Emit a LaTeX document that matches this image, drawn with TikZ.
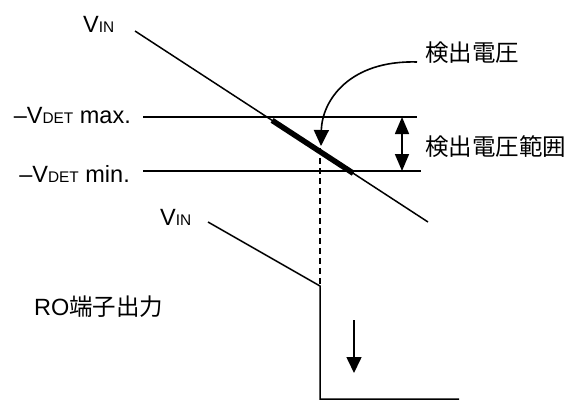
\documentclass[tikz,border=0pt]{standalone}
\usepackage{fontspec}
\setmainfont{Liberation Sans}
\newfontfamily\jpfont{Noto Sans CJK JP}
\usetikzlibrary{arrows.meta, positioning, calc}

\newcommand{\lowsub}[1]{\raisebox{-0.5pt}{\fontsize{15.4}{16}\selectfont #1}}

\begin{document}
\begin{tikzpicture}[
    x=1pt, y=-1pt,
    txt/.style={inner sep=0pt, font=\fontsize{23.5}{28}\selectfont},
    wire/.style={line width=1.5pt},
    bar/.style={line width=5.5pt},
    dashwire/.style={line width=1.5pt, dash pattern=on 6pt off 4pt},
    arrow/.style={-{Triangle[length=16pt, width=15pt]}, line width=1.6pt},
    twoway/.style={{Triangle[length=17pt, width=14pt]}-{Triangle[length=17pt, width=14pt]}, line width=1.6pt}
]
    \useasboundingbox (0,0) rectangle (570,400);

    % labels
    \node[txt, anchor=base west] (vin_top) at (83,32) {V\lowsub{IN}};
    \node[txt, anchor=base east] (det_max) at (131,123) {–V\lowsub{DET} max.};
    \node[txt, anchor=base east] (det_min) at (130,182) {–V\lowsub{DET} min.};
    \node[txt, anchor=base west] (vin_low) at (160,225) {V\lowsub{IN}};
    \node[txt, anchor=base west] (ro_out) at (34,315) {RO{\jpfont 端子出力}};
    \node[txt, anchor=west] (det) at (425,52.5) {\jpfont 検出電圧};
    \node[txt, anchor=west] (det_range) at (425,147) {\jpfont 検出電圧範囲};

    % points of the input line and thresholds
    \coordinate (vin_a) at (135,31);
    \coordinate (vin_b) at (428,222);
    \coordinate (max_a) at (143,117);
    \coordinate (max_b) at (417,117);
    \coordinate (min_a) at (143,171);
    \coordinate (min_b) at (421,171);
    \coordinate (bar_a) at ($(vin_a)!0.468!(vin_b)$);
    \coordinate (bar_b) at ($(vin_a)!0.745!(vin_b)$);

    % points of the output
    \coordinate (ro_a) at (208,222);
    \coordinate (ro_b) at (320,286);
    \coordinate (ro_c) at (320,399);
    \coordinate (ro_d) at (459,399);
    \coordinate (hit) at (320,148);
    \coordinate (tip) at (321,146);
    \coordinate (det_in) at (417,62);
    \coordinate (range_a) at (402,117);
    \coordinate (range_b) at (402,171);
    \coordinate (fall_a) at (354,320);
    \coordinate (fall_b) at (354,373);

    % input and thresholds
    \draw[wire] (vin_a) -- (vin_b);
    \draw[wire] (max_a) -- (max_b);
    \draw[wire] (min_a) -- (min_b);
    \draw[bar] (bar_a) -- (bar_b);

    % output
    \draw[wire] (ro_a) -- (ro_b) -- (ro_c) -- (ro_d);
    \draw[dashwire] (hit) -- (ro_b);

    % arrows
    \draw[arrow] (det_in) .. controls (350,60) and (322,100) .. (tip);
    \draw[twoway] (range_a) -- (range_b);
    \draw[arrow] (fall_a) -- (fall_b);
\end{tikzpicture}
\end{document}
